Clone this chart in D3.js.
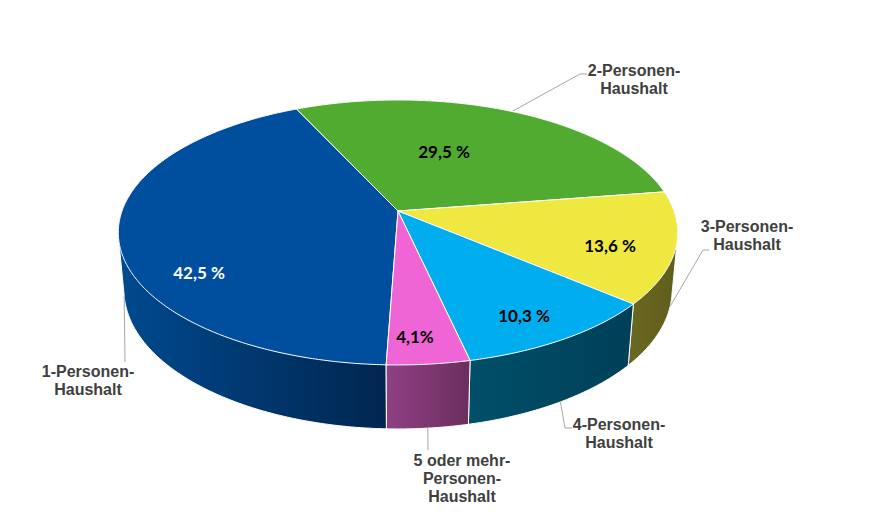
<!DOCTYPE html>
<html>
<head>
<meta charset="utf-8">
<script src="https://cdn.jsdelivr.net/npm/d3@7"></script>
<style>
  html, body { margin: 0; padding: 0; background: #fff; }
  svg { display: block; }
  .cat { font-family: "Liberation Sans", Arial, sans-serif; font-weight: bold; font-size: 16px; fill: #404040; }
  .pct { font-family: Lato, "Open Sans", sans-serif; font-weight: bold; font-size: 17px; }
</style>
</head>
<body>
<div id="chart"></div>
<script>
// Daten
const categories = ["1-Personen-Haushalt", "2-Personen-Haushalt", "3-Personen-Haushalt", "4-Personen-Haushalt", "5 oder mehr-Personen-Haushalt"];
const values = [42.5, 29.5, 13.6, 10.3, 4.1];
const valueLabels = ["42,5 %", "29,5 %", "13,6 %", "10,3 %", "4,1%"];
const catLines = [
    ["1-Personen-", "Haushalt"],
    ["2-Personen-", "Haushalt"],
    ["3-Personen-", "Haushalt"],
    ["4-Personen-", "Haushalt"],
    ["5 oder mehr-", "Personen-", "Haushalt"]
];

// Farben
const topColors = ["#004f9f", "#52ab31", "#eee840", "#00adef", "#f065d6"];
const sideFrom = ["#004a8f", "#000000", "#6a6820", "#004f69", "#8f4084"];
const sideTo = ["#00264f", "#000000", "#5f5d1c", "#003f58", "#6b2e5e"];
const valueColors = ["#fff", "#000", "#000", "#000", "#000"];

// Layout der Beschriftungen
const valuePos = [[199, 272], [444, 151], [610, 245], [524, 315], [415, 336]];
const catPos = [[88, 371], [634, 70], [747, 226], [619, 424], [462, 460]];
const leaderBends = [
    [[125, 362]],
    [[580, 74], [587, 74]],
    [[703, 250], [709, 250]],
    [[565, 428], [572, 428]],
    [[428, 450]]
];

const width = 894;
const height = 516;
const lineHeight = 18;

// Perspektive der Torte
const cx = 398, cy = 211;
const radius = 276, tilt = 129, persp = 0.162;
const depth = 58, depthPersp = 0.02;

// Winkel: 0 = oben, im Uhrzeigersinn
function project(angle, lower) {
    const X = Math.sin(angle), Y = -Math.cos(angle);
    const w = 1 - persp * Y + (lower ? depthPersp : 0);
    return [cx + radius * X / w, cy + (tilt * Y + (lower ? depth : 0)) / w];
}

function rim(start, end, lower) {
    const steps = Math.max(2, Math.ceil((end - start) / 0.01));
    const t = d3.scaleLinear().domain([0, steps]).range([start, end]);
    return d3.range(steps + 1).map(i => project(t(i), lower));
}

const firstAngle = 182.06 * Math.PI / 180;
const pie = d3.pie().sort(null).startAngle(firstAngle).endAngle(firstAngle + 2 * Math.PI);
const slices = pie(values);
const line = d3.line();

const svg = d3.select("#chart").append("svg")
    .attr("width", width)
    .attr("height", height);

const defs = svg.append("defs");

// Seitenwaende zuerst, die Deckflaeche liegt darueber
const sides = svg.append("g");
slices.forEach((s, i) => {
    const top = rim(s.startAngle, s.endAngle, false);
    const bottom = rim(s.startAngle, s.endAngle, true);
    const xs = d3.extent(top.concat(bottom), p => p[0]);
    const grad = defs.append("linearGradient")
        .attr("id", "side" + i)
        .attr("gradientUnits", "userSpaceOnUse")
        .attr("x1", xs[0]).attr("x2", xs[1])
        .attr("y1", 0).attr("y2", 0);
    grad.append("stop").attr("offset", 0).attr("stop-color", sideFrom[i]);
    grad.append("stop").attr("offset", 1).attr("stop-color", sideTo[i]);

    // Huelle statt Umriss, damit auch die Tangente links und rechts gefuellt ist
    sides.append("path")
        .attr("d", line(d3.polygonHull(top.concat(bottom))) + "Z")
        .attr("fill", `url(#side${i})`)
        .attr("stroke", "#fff")
        .attr("stroke-width", 1)
        .attr("stroke-linejoin", "round");
});

// Fuehrungslinien
svg.append("g").selectAll("path")
    .data(slices)
    .join("path")
    .attr("d", (s, i) => {
        const mid = (s.startAngle + s.endAngle) / 2;
        // 2-Personen sitzt am oberen Rand, die anderen an der Unterkante
        return line([project(mid, i !== 1)].concat(leaderBends[i]));
    })
    .attr("fill", "none")
    .attr("stroke", "#a6a6a6")
    .attr("stroke-width", 1);

// Deckflaeche
svg.append("g").selectAll("path")
    .data(slices)
    .join("path")
    .attr("d", s => line([[cx, cy]].concat(rim(s.startAngle, s.endAngle, false))) + "Z")
    .attr("fill", (s, i) => topColors[i])
    .attr("stroke", "#fff")
    .attr("stroke-width", 1)
    .attr("stroke-linejoin", "round");

// Prozentwerte
svg.append("g").selectAll("text")
    .data(valueLabels)
    .join("text")
    .attr("class", "pct")
    .attr("x", (d, i) => valuePos[i][0])
    .attr("y", (d, i) => valuePos[i][1])
    .attr("text-anchor", "middle")
    .attr("dominant-baseline", "central")
    .attr("fill", (d, i) => valueColors[i])
    .text(d => d);

// Kategorien
const catText = svg.append("g").selectAll("text")
    .data(catLines)
    .join("text")
    .attr("class", "cat")
    .attr("text-anchor", "middle");

catText.selectAll("tspan")
    .data((d, i) => d.map((t, j) => ({ t, x: catPos[i][0], y: catPos[i][1] + j * lineHeight })))
    .join("tspan")
    .attr("x", d => d.x)
    .attr("y", d => d.y)
    .attr("dominant-baseline", "central")
    .text(d => d.t);
</script>
</body>
</html>
